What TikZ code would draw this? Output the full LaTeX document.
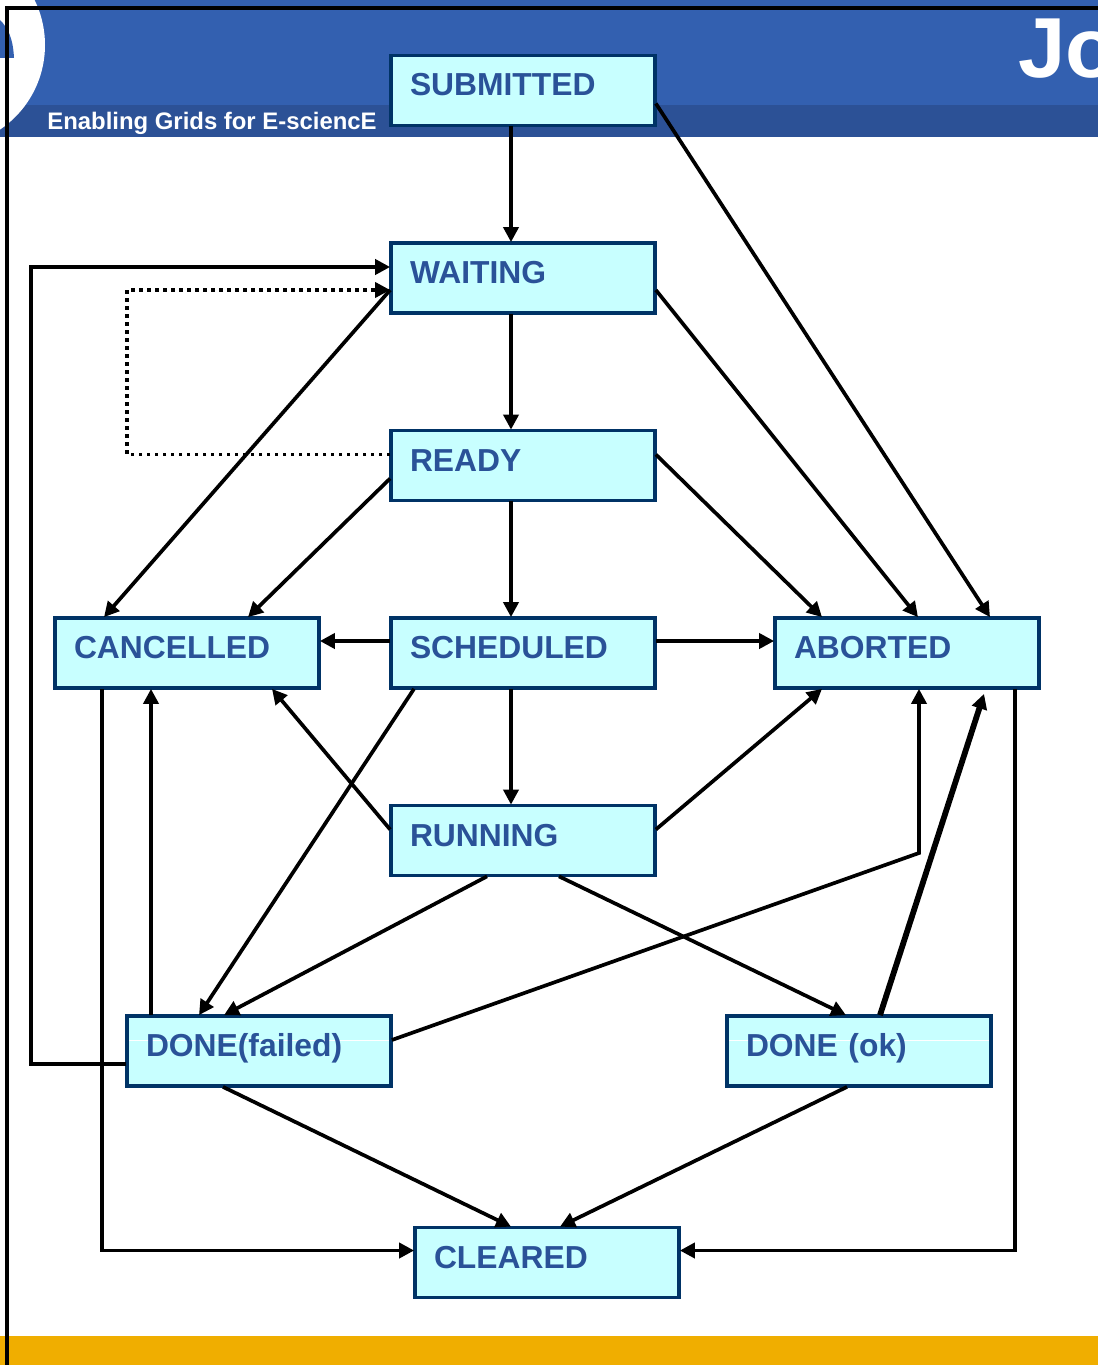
\documentclass[tikz,border=0pt]{standalone}
\usepackage{fontspec}
\setmainfont{Liberation Sans}
\usetikzlibrary{arrows.meta}
\usetikzlibrary{calc}
\definecolor{headblue}{HTML}{3360B0}
\definecolor{bandblue}{HTML}{2C5196}
\definecolor{textblue}{HTML}{2A5298}
\definecolor{boxline}{HTML}{003366}
\definecolor{boxfill}{HTML}{C8FFFF}
\definecolor{footgold}{HTML}{F0AE00}
\begin{document}
\begin{tikzpicture}[x=.02cm,y=-.02cm,>={Triangle[length=.3cm,width=.3cm]},
	link/.style={line width=2.1pt},
	state node/.style={rectangle,draw=boxline,fill=boxfill,line width=2.2pt,inner ysep=0pt,inner xsep=.38cm,outer sep=.5pt,
		text width=4.52cm,text height=.81cm,text depth=.59cm,align=left,text=textblue,
		font=\fontsize{18.1}{20}\selectfont\bfseries},
	streak node/.style={state node,path picture={
		\draw[white,line width=.5pt] ($(path picture bounding box.west)+(0,-11)$) -- ($(path picture bounding box.east)+(0,-11)$);}}]
	\useasboundingbox (0,0) rectangle (1098,1365);
	\clip (0,0) rectangle (1098,1365);

	% slide background
	\fill[headblue] (0,0) rectangle (1098,105);
	\fill[bandblue] (0,105) rectangle (1098,137);
	\fill[white] (-57,45) circle (102);
	\fill[headblue] (0,20) .. controls (8,28) and (13,38) .. (14,58) -- (0,58) -- cycle;
	\fill[footgold] (0,1336) rectangle (1098,1365);
	\node[anchor=base west,inner sep=0pt,text=white,font=\fontsize{13.6}{15}\selectfont\bfseries] (tagline) at (47,129.5) {Enabling Grids for E-sciencE};
	\node[anchor=base west,inner sep=0pt,text=white,font=\fontsize{48.5}{52}\selectfont\bfseries] (title) at (1018,78) {Jo};
	\draw[line width=2.2pt] (1098,8) -- (7,8) -- (7,1365);

	\node[state node] (submitted) at (523,90.5) {SUBMITTED};
	\node[state node] (waiting) at (523,278) {WAITING};
	\node[state node] (ready) at (523,465.5) {READY};
	\node[state node] (scheduled) at (523,653) {SCHEDULED};
	\node[state node] (cancelled) at (187,653) {CANCELLED};
	\node[state node] (aborted) at (907,653) {ABORTED};
	\node[state node] (running) at (523,840.5) {RUNNING};
	\node[streak node] (failed) at (259,1051) {DONE(failed)};
	\node[streak node] (ok) at (859,1051) {DONE (ok)};
	\node[state node] (cleared) at (547,1262.5) {CLEARED};

	\path[->,link]
		($(submitted.south)+(-12,0)$) edge ($(waiting.north)+(-12,0)$)
		($(waiting.south)+(-12,0)$) edge ($(ready.north)+(-12,0)$)
		($(ready.south)+(-12,0)$) edge ($(scheduled.north)+(-12,0)$)
		($(scheduled.south)+(-12,0)$) edge ($(running.north)+(-12,0)$)
		($(submitted.east)+(0,13)$) edge ($(aborted.north)+(83,0)$)
		($(waiting.west)+(0,12)$) edge ($(cancelled.north)+(-83,0)$)
		($(waiting.east)+(0,12)$) edge ($(aborted.north)+(11,0)$)
		($(ready.west)+(0,13)$) edge ($(cancelled.north)+(61,0)$)
		($(ready.east)+(0,-11)$) edge ($(aborted.north)+(-85,0)$)
		($(scheduled.west)+(0,-12)$) edge ($(cancelled.east)+(0,-12)$)
		($(scheduled.east)+(0,-12)$) edge ($(aborted.west)+(0,-12)$)
		($(scheduled.south)+(-109,0)$) edge ($(failed.north)+(-60,0)$)
		($(running.west)+(0,-11)$) edge ($(cancelled.south)+(85,0)$)
		($(running.east)+(0,-11)$) edge ($(aborted.south)+(-85,0)$)
		($(running.south)+(-36,0)$) edge ($(failed.north)+(-35,0)$)
		($(running.south)+(36,0)$) edge ($(ok.north)+(-13,0)$)
		($(failed.north)+(-108,0)$) edge ($(cancelled.south)+(-36,0)$)
		($(failed.south)+(-36,0)$) edge ($(cleared.north)+(-36,0)$)
		($(ok.south)+(-12,0)$) edge ($(cleared.north)+(13,0)$)
	;
	\draw[->,line width=3.3pt] ($(ok.north)+(21,0)$) -- ($(aborted.south)+(77,5)$);
	\draw[->,link] ($(failed.east)+(0,-11)$) -- (919,853) -- ($(aborted.south)+(12,0)$);
	\draw[->,line width=2.4pt] ($(failed.west)+(0,13)$) -| (31,267) -- ($(waiting.west)+(0,-11)$);
	\draw[->,line width=2pt,dash pattern=on .07cm off .09cm] ($(ready.west)+(0,-11)$) -| (127,290) -- ($(waiting.west)+(0,12)$);
	\draw[->,link] ($(cancelled.south)+(-85,0)$) |- ($(cleared.west)+(0,-12)$);
	\draw[->,link] ($(aborted.south)+(108,0)$) |- ($(cleared.east)+(0,-12)$);
\end{tikzpicture}
\end{document}
